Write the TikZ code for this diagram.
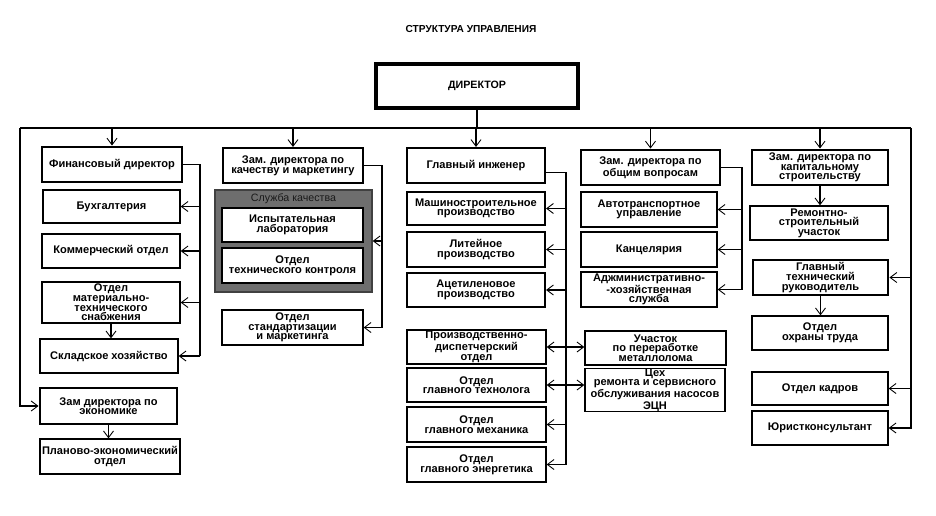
\documentclass[tikz,border=0pt]{standalone}
\usepackage{fontspec}
\setmainfont{Liberation Sans}
\usetikzlibrary{arrows.meta,calc}
\begin{document}
\begin{tikzpicture}[x=0.75pt,y=-0.75pt,
  font=\fontsize{8.3}{7.2}\selectfont\bfseries,
  conn/.style={line width=1pt, draw=black},
  arr/.style={conn,-{Straight Barb[length=5pt,width=7.5pt,line width=0.65pt]}},
  box/.style={draw, line width=1pt, fill=white, inner sep=0pt, align=center},
  mbox/.style={box, line width=1.6pt},
  tbox/.style={box, line width=2.2pt},
  sz/.style 2 args={minimum width=#1*0.75pt, minimum height=#2*0.75pt}
]
\useasboundingbox (0,0) rectangle (936,515);
\fill[white] (0,0) rectangle (936,515);

% title and director
\node[font=\fontsize{7.6}{8}\selectfont\bfseries] (title) at (471,29) {СТРУКТУРА УПРАВЛЕНИЯ};
\node[box, line width=2.5pt, sz={202}{44}, font=\fontsize{8}{8}\selectfont\bfseries] (dir) at (477,86) {ДИРЕКТОР};

% column 1
\node[tbox,sz={140}{35}] (fin) at (112,164.5) {Финансовый директор};
\node[box,sz={137}{33}] (buh) at (111.5,206.5) {Бухгалтерия};
\node[box,sz={138}{34}] (kom) at (111,251) {Коммерческий отдел};
\node[box,sz={138}{41}] (mts) at (111,302.5) {Отдел\\материально-\\технического\\снабжения};
\node[box,sz={138}{34}] (skl) at (109,356) {Складское хозяйство};
\node[tbox,sz={137}{36}] (zame) at (108.5,406) {Зам директора по\\экономике};
\node[box,sz={140}{35}] (plan) at (110,456.5) {Планово-экономический\\отдел};

% column 2
\node[mbox,sz={140}{35}] (kach) at (293,165.5) {Зам. директора по\\качеству и маркетингу};
\node[draw=black!75, fill=black!57, line width=1pt, sz={157}{102}] (sluzh) at (293.5,241) {};
\node[font=\fontsize{8}{8}\selectfont, text=black!90] (sluzhlbl) at (293.5,199) {Служба качества};
\node[box,sz={141}{34}] (isp) at (292.5,225) {Испытательная\\лаборатория};
\node[box,sz={141}{35}] (otk) at (292.5,265.5) {Отдел\\технического контроля};
\node[box,sz={141}{35}] (std) at (292.5,327.5) {Отдел\\стандартизации\\и маркетинга};

% column 3
\node[mbox,sz={138}{35}] (gi) at (476,165.5) {Главный инженер};
\node[mbox,sz={138}{33}] (mash) at (476,208.5) {Машиностроительное\\производство};
\node[mbox,sz={138}{35}] (lit) at (476,249.5) {Литейное\\производство};
\node[mbox,sz={138}{34}] (acet) at (476,290) {Ацетиленовое\\производство};
\node[box,sz={139}{34}] (pdo) at (476.5,347) {Производственно-\\диспетчерский\\отдел};
\node[box,sz={139}{34}] (tech) at (476.5,385) {Отдел\\главного технолога};
\node[box,sz={139}{35}] (mech) at (476.5,424.5) {Отдел\\главного механика};
\node[box,sz={139}{35}] (energ) at (476.5,464.5) {Отдел\\главного энергетика};
\node[box,sz={141}{34}] (uch) at (655.5,348) {Участок\\по переработке\\металлолома};
\node[box,sz={140}{42}] (tseh) at (655,390) {Цех\\ремонта и сервисного\\обслуживания насосов\\ЭЦН};

% column 4
\node[tbox,sz={139}{35}] (obsh) at (650.5,167.5) {Зам. директора по\\общим вопросам};
\node[box,sz={136}{35}] (avto) at (649,209.5) {Автотранспортное\\управление};
\node[box,sz={136}{35}] (kanc) at (649,249.5) {Канцелярия};
\node[box,sz={136}{35}] (adm) at (649,289.5) {Аджминистративно-\\-хозяйственная\\служба};

% column 5
\node[tbox,sz={136}{35}] (kap) at (820,167.5) {Зам. директора по\\капитальному\\строительству};
\node[box,sz={138}{34}] (rem) at (819,223) {Ремонтно-\\строительный\\участок};
\node[tbox,sz={135}{35}] (gtr) at (820.5,277.5) {Главный\\технический\\руководитель};
\node[box,sz={136}{34}] (ohr) at (820,333) {Отдел\\охраны труда};
\node[box,sz={136}{33}] (kadr) at (820,388.5) {Отдел  кадров};
\node[box,sz={136}{34}] (yur) at (820,428) {Юристконсультант};

% main bus
\coordinate (busL) at (20,128);
\coordinate (busR) at (911,128);
\draw[conn] (dir.south) -- (dir.south |- busL);
\draw[conn] (busL) -- (busR);
\draw[arr] (busL) |- (zame.west);
\draw[arr] (busR) |- (yur.east);
\draw[arr] (gtr.east -| busR) -- (gtr.east);
\draw[arr] (kadr.east -| busR) -- (kadr.east);
\foreach \n in {fin,kach,gi,obsh,kap} \draw[arr] (\n.north |- busL) -- (\n.north);

% brackets
\coordinate (fb) at (200,0);
\draw[conn] (fin.east) -| (skl.east -| fb);
\foreach \n in {buh,kom,mts,skl} \draw[arr] (\n.east -| fb) -- (\n.east);

\coordinate (kb) at (382,0);
\draw[conn] (kach.east) -| (std.east -| kb);
\foreach \n in {sluzh,std} \draw[arr] (\n.east -| kb) -- (\n.east);

\coordinate (gb) at (566,0);
\draw[conn] ($(gi.east)+(0,7)$) -| (energ.east -| gb);
\foreach \n in {mash,lit,acet,pdo,tech,mech,energ} \draw[arr] (\n.east -| gb) -- (\n.east);
\draw[arr] (pdo.east -| gb) -- (pdo.east -| uch.west);
\draw[arr] (tech.east -| gb) -- (tech.east -| tseh.west);

\coordinate (ob) at (742,0);
\draw[conn] (obsh.east) -| (adm.east -| ob);
\foreach \n in {avto,kanc,adm} \draw[arr] (\n.east -| ob) -- (\n.east);

% vertical arrows
\draw[arr] (mts.south) -- (mts.south |- skl.north);
\draw[arr] (zame.south) -- (zame.south |- plan.north);
\draw[arr] (kap.south) -- (kap.south |- rem.north);
\draw[arr] (gtr.south) -- (gtr.south |- ohr.north);
\end{tikzpicture}
\end{document}
